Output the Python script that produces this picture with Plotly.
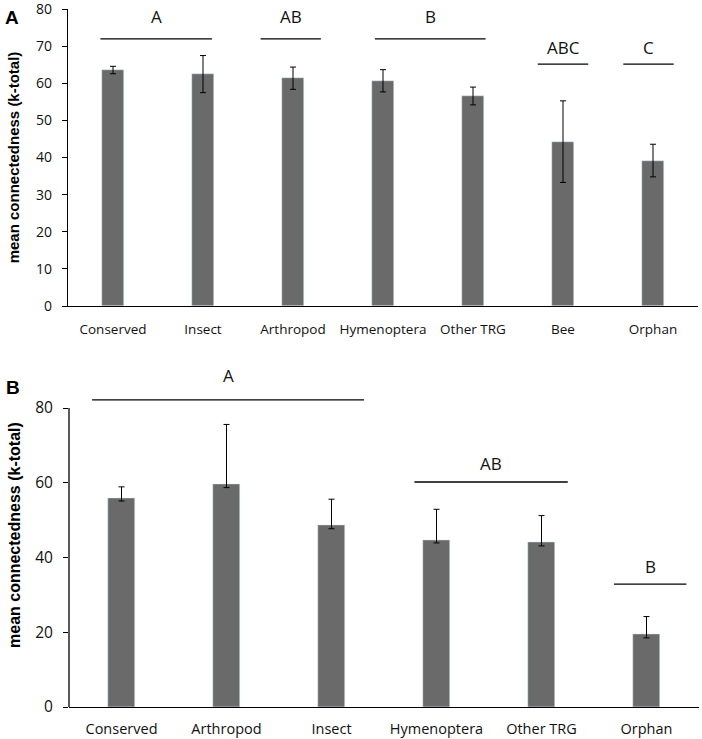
import plotly.graph_objects as go

# panel A data
cats_a = ["Conserved", "Insect", "Arthropod", "Hymenoptera", "Other TRG", "Bee", "Orphan"]
means_a = [63.6, 62.5, 61.4, 60.7, 56.6, 44.3, 39.2]
err_a = [1.0, 5.0, 3.0, 3.0, 2.4, 11.0, 4.4]

# panel B data
cats_b = ["Conserved", "Arthropod", "Insect", "Hymenoptera", "Other TRG", "Orphan"]
means_b = [55.8, 59.6, 48.7, 44.7, 44.0, 19.5]
err_plus_b = [3.1, 16.0, 6.9, 8.2, 7.2, 4.7]
err_minus_b = [0.7, 0.9, 1.0, 0.8, 0.9, 1.0]

# significance groups (category index span, line level, letter level)
grp_a_text = ["A", "AB", "B", "ABC", "C"]
grp_a_from = [-0.14, 1.64, 2.91, 4.72, 5.67]
grp_a_to = [1.10, 2.31, 4.14, 5.28, 6.23]
grp_a_line = [72, 72, 72, 65.2, 65.2]
grp_a_lab = [77.9, 77.9, 77.9, 69.8, 69.8]

grp_b_text = ["A", "AB", "B"]
grp_b_from = [-0.28, 2.79, 4.69]
grp_b_to = [2.31, 4.25, 5.38]
grp_b_line = [82.2, 60.2, 32.9]
grp_b_lab = [88.8, 65.2, 37.5]

BAR = "#6a6a6a"
FONT = "Open Sans"
H = 739.0
W = 702.0

fig = go.Figure()
fig.add_trace(go.Bar(
    x=cats_a, y=means_a, width=0.25, marker_color=BAR, xaxis="x", yaxis="y",
    error_y=dict(type="data", array=err_a, color="black", thickness=1, width=3),
    showlegend=False))
fig.add_trace(go.Bar(
    x=cats_b, y=means_b, width=0.25, marker_color=BAR, xaxis="x2", yaxis="y2",
    error_y=dict(type="data", array=err_plus_b, arrayminus=err_minus_b, symmetric=False,
                 color="black", thickness=1, width=3),
    showlegend=False))

shapes = []
annots = []
for t, x0, x1, yl, yt in zip(grp_a_text, grp_a_from, grp_a_to, grp_a_line, grp_a_lab):
    shapes.append(dict(type="line", xref="x", yref="y", x0=x0, x1=x1, y0=yl, y1=yl,
                       line=dict(color="black", width=1.3)))
    annots.append(dict(xref="x", yref="y", x=(x0 + x1) / 2, y=yt, text=t, showarrow=False,
                       font=dict(family=FONT, size=17, color="#111")))
for t, x0, x1, yl, yt in zip(grp_b_text, grp_b_from, grp_b_to, grp_b_line, grp_b_lab):
    shapes.append(dict(type="line", xref="x2", yref="y2", x0=x0, x1=x1, y0=yl, y1=yl,
                       line=dict(color="black", width=1.3)))
    annots.append(dict(xref="x2", yref="y2", x=(x0 + x1) / 2, y=yt, text=t, showarrow=False,
                       font=dict(family=FONT, size=17, color="#111")))

# y axis line of panel B only up to 80 (range goes higher for the top bracket)
shapes.append(dict(type="line", xref="x2 domain", yref="y2", x0=0, x1=0, y0=0, y1=80,
                   line=dict(color="black", width=1.3)))

annots.append(dict(xref="paper", yref="paper", x=3 / W, y=1 - 5 / H, xanchor="left", yanchor="top",
                   text="<b>A</b>", showarrow=False,
                   font=dict(family="Liberation Sans", size=19, color="black")))
annots.append(dict(xref="paper", yref="paper", x=4 / W, y=1 - 375 / H, xanchor="left", yanchor="top",
                   text="<b>B</b>", showarrow=False,
                   font=dict(family="Liberation Sans", size=19, color="black")))


def ytitle(size, standoff):
    return dict(text="<b>mean connectedness (k-total)</b>",
                font=dict(family="Liberation Sans", size=size, color="black"), standoff=standoff)


fig.update_layout(
    width=702, height=739,
    margin=dict(l=0, r=0, t=0, b=0),
    plot_bgcolor="white", paper_bgcolor="white",
    bargap=0,
    shapes=shapes, annotations=annots,
    xaxis=dict(domain=[68 / W, 698 / W], anchor="y", range=[-0.5, 6.5],
               showline=True, linecolor="black", linewidth=1.3, ticks="",
               tickfont=dict(family=FONT, size=13.5, color="#111"), ticklabelstandoff=11,
               showgrid=False, automargin=False),
    yaxis=dict(domain=[1 - 306 / H, 1 - 9 / H], anchor="x", range=[0, 80.05],
               tickvals=[0, 10, 20, 30, 40, 50, 60, 70, 80], ticklabeloverflow="allow",
               showline=True, linecolor="black", linewidth=1.3, ticks="outside", ticklen=5,
               tickcolor="black", tickfont=dict(family=FONT, size=14, color="#111"),
               ticklabelstandoff=7, showgrid=False, zeroline=False, title=ytitle(15, 12),
               automargin=False),
    xaxis2=dict(domain=[69 / W, 699 / W], anchor="y2", range=[-0.5, 5.5],
                showline=True, linecolor="black", linewidth=1.3, ticks="",
                tickfont=dict(family=FONT, size=14.5, color="#111"), ticklabelstandoff=8,
                showgrid=False, automargin=False),
    yaxis2=dict(domain=[1 - 707 / H, 1 - (707 - 92 * 299 / 80.0) / H], anchor="x2", range=[0, 92],
                tickvals=[0, 20, 40, 60, 80], showline=False, ticks="outside", ticklen=5,
                tickcolor="black", tickfont=dict(family=FONT, size=15.5, color="#111"),
                ticklabelstandoff=7, showgrid=False, zeroline=False, title=ytitle(16, 10),
                automargin=False),
)

fig.write_html("out.html", config={"displayModeBar": False},
               post_script="document.body.style.margin='0';")
